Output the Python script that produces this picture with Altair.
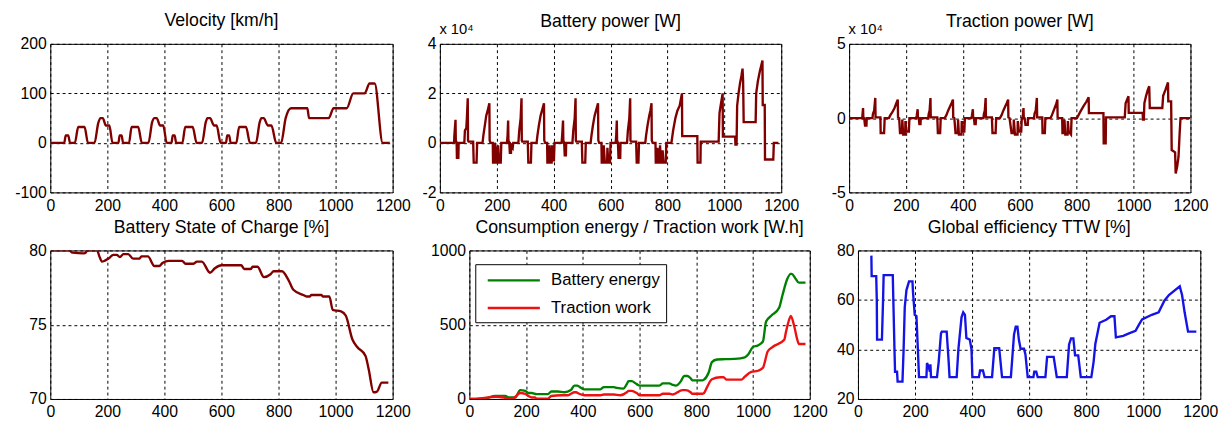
import altair as alt
import pandas as pd

FONT = "Liberation Sans"
X_TICKS = [0, 200, 400, 600, 800, 1000, 1200]

# ---------------- Velocity [km/h] ----------------
vel_t = [0, 49, 54, 63, 69, 86, 98, 120, 132, 155, 168, 176, 184, 195, 207, 218,
         239, 243, 250, 255, 276, 285, 308, 321, 344, 357, 365, 373, 385, 396, 408,
         425, 429, 436, 441, 463, 473, 499, 513, 532, 545, 551, 560, 574, 583, 597,
         616, 620, 627, 632, 652, 662, 686, 700, 721, 734, 740, 748, 763, 775, 792,
         809, 825, 844, 901, 907, 976, 993, 1039, 1062, 1102, 1119, 1137, 1165, 1190]
vel_v = [0, 0, 15, 15, 0, 0, 32, 32, 0, 0, 40, 50, 50, 35, 35, 0,
         0, 15, 15, 0, 0, 32, 32, 0, 0, 42, 50, 50, 35, 35, 0,
         0, 15, 15, 0, 0, 32, 32, 0, 0, 42, 50, 50, 35, 35, 0,
         0, 15, 15, 0, 0, 32, 32, 0, 0, 42, 50, 50, 35, 35, 0,
         0, 50, 70, 70, 50, 50, 70, 70, 100, 100, 120, 120, 0, 0]

# ---------------- Battery power [W] ----------------
bp_t = [0, 50, 51, 55, 56, 59, 60, 65, 66,
        86, 88, 93, 95, 98, 99, 101, 117, 119, 129, 131,
        150, 153, 158, 163, 168, 174, 175, 178, 186, 187, 192, 193, 197, 198, 204, 205, 208, 214, 216,
        236, 238, 240, 241, 244, 246, 250, 251, 256, 258,
        276, 279, 284, 287, 288, 290, 309, 311, 320, 322,
        340, 343, 348, 354, 359, 366, 367, 370, 377, 378, 384, 385, 388, 393, 394, 397, 401, 403,
        428, 430, 433, 434, 437, 439, 443, 444,
        466, 469, 474, 477, 478, 480, 499, 501, 511, 513,
        530, 533, 538, 544, 549, 556, 557, 560, 568, 569, 575, 576, 580, 588, 589, 592, 598, 600,
        618, 620, 622, 623, 626, 628, 634, 635,
        658, 661, 666, 669, 670, 672, 690, 692, 698, 700,
        722, 725, 730, 736, 740, 744, 745, 748, 758, 759, 764, 765, 768, 773, 774, 777, 782, 783, 786, 794, 796,
        814, 820, 828, 835, 843, 851, 852, 905, 906, 916, 917, 980, 983, 987, 994, 995, 1038, 1039, 1043,
        1045, 1050, 1055, 1060, 1064, 1066, 1068, 1110, 1112, 1118, 1125, 1134, 1135, 1142, 1143, 1172, 1174, 1190]
bp_v = [0, 0, 3000, 9300, 1000, 0, -6000, -6000, 0,
        0, 5000, 6000, 10000, 18000, 1000, 500, 500, -8000, -8000, 0,
        0, 3000, 7000, 11000, 13000, 16000, 1000, 0, 0, -8000, -8000, 0, -2000, -8000, -8000, -1000, -8000, -8000, 0,
        0, 3000, 9000, 1000, 0, -4000, -4000, -1000, -2000, 0,
        0, 5000, 10000, 18000, 1000, 500, 500, -8000, -8000, 0,
        0, 3000, 7000, 11000, 13000, 16000, 1000, 0, 0, -8000, -8000, -1000, -8000, -8000, -1000, -7000, -7000, 0,
        0, 3000, 9000, 1000, 0, -5000, -5000, 0,
        0, 5000, 10000, 18000, 1000, 500, 500, -8000, -8000, 0,
        0, 3000, 7000, 11000, 13000, 16000, 1000, 0, 0, -8000, -8000, -1000, -8000, -8000, -2000, -8000, -8000, 0,
        0, 3000, 9000, 1000, 0, -6000, -6000, 0,
        0, 5000, 10000, 18000, 1000, 500, 500, -8000, -8000, 0,
        0, 3000, 7000, 11000, 13000, 16000, 1000, 0, 0, -8000, -8000, -2000, -8000, -8000, -1000, -8000, -8000, -3000, -8000, -8000, 0,
        0, 5000, 10000, 13000, 15000, 20000, 2700, 2700, -8000, -8000, 500, 500, 12000, 15000, 20000, 2500, 2500, -700, -700,
        15000, 20000, 24000, 27000, 30000, 25000, 8400, 8400, 20000, 25000, 29000, 33300, 15300, 15300, -6700, -6700, 0, 0]

# ---------------- Traction power [W] ----------------
tp_t = [0, 46, 47, 49, 50, 53, 56, 61, 62,
        82, 84, 88, 92, 93, 110, 111, 123, 125,
        140, 145, 152, 160, 166, 171, 172, 176, 179, 186, 187, 190, 197, 198, 201, 210, 212,
        236, 238, 241, 242, 245, 247, 251, 252,
        278, 280, 283, 286, 287, 310, 312, 320, 322,
        336, 342, 348, 355, 360, 365, 366, 370, 374, 382, 383, 386, 395, 396, 399, 405, 407,
        430, 432, 435, 436, 439, 441, 445, 446,
        472, 474, 477, 480, 481, 502, 504, 515, 517,
        530, 536, 542, 549, 554, 559, 560, 564, 571, 578, 579, 583, 592, 593, 597, 605, 607,
        610, 611, 613, 614, 617, 620, 628, 629,
        650, 652, 656, 660, 661, 679, 680, 688, 690,
        708, 713, 719, 725, 729, 732, 733, 737, 749, 750, 756, 757, 760, 768, 769, 772, 780, 782,
        801, 812, 824, 834, 842, 843, 894, 895, 902, 903, 969, 972, 982, 983, 1032, 1033, 1036,
        1038, 1044, 1050, 1055, 1057, 1101, 1104, 1112, 1121, 1122, 1132, 1134, 1146, 1148, 1153,
        1158, 1162, 1165, 1199]
tp_v = [0, 0, 2000, 6800, 500, 0, -5000, -5000, 0,
        0, 3000, 5000, 13600, 500, 500, -10000, -10000, 0,
        0, 2000, 4000, 7000, 10000, 12500, 500, 0, -10000, -10000, -1000, -11000, -11000, -2000, -9000, -9000, 0,
        0, 2000, 6000, 500, 0, -4000, -4000, 0,
        0, 3000, 5000, 13500, 500, 500, -10000, -10000, 0,
        0, 2000, 5000, 8000, 10000, 12500, 500, 0, -10000, -10000, -1000, -11000, -11000, -2000, -9000, -9000, 0,
        0, 2000, 6000, 500, 0, -4000, -4000, 0,
        0, 3000, 5000, 13500, 500, 500, -10000, -10000, 0,
        0, 2000, 5000, 8000, 10000, 12500, 500, 0, -10000, -10000, -1000, -11000, -11000, -2000, -9000, -9000, 0,
        0, 2000, 6800, 500, 0, -4500, -4500, 0,
        0, 3000, 5000, 13600, 500, 500, -10000, -10000, 0,
        0, 2000, 5000, 8000, 10000, 12500, 500, 0, 0, -10000, -10000, -1000, -11000, -11000, -2000, -9000, -11000, 0,
        0, 4000, 8000, 11000, 14000, 3400, 3400, -17000, -17000, 500, 500, 10000, 14700, 3500, 3500, -1000, -1000,
        10000, 15000, 19000, 21500, 6800, 6800, 15000, 19000, 24000, 11300, 11300, -21500, -23000, -37300, -33000,
        -26000, -10000, 0, 0]

# ---------------- Battery State of Charge [%] ----------------
soc_t = [0, 66, 78, 118, 124, 130, 164, 172, 181, 190, 204, 221, 233, 244, 256, 273, 290, 313,
         319, 342, 365, 382, 393, 416, 462, 474, 502, 514, 531, 560, 577, 600, 669, 680, 703, 709,
         726, 749, 772, 783, 812, 835, 852, 887, 898, 910, 915, 950, 955, 978, 990, 1019, 1036,
         1059, 1076, 1105, 1116, 1133, 1145, 1162, 1185]
soc_v = [80, 80, 79.85, 79.8, 79.85, 80, 80, 79.6, 79.25, 79.3, 79.45, 79.7, 79.7, 79.55, 79.75,
         79.75, 79.45, 79.45, 79.6, 79.6, 78.95, 78.95, 79.15, 79.3, 79.3, 79.1, 79.1, 79.25, 79.25,
         78.5, 78.8, 79.0, 79.0, 78.75, 78.75, 78.9, 78.9, 78.2, 78.4, 78.6, 78.6, 78.0, 77.35, 77.0,
         76.9, 76.9, 77.0, 77.0, 76.9, 76.9, 76.0, 75.9, 75.6, 74.0, 73.5, 72.9, 72.0, 70.45, 70.5,
         71.1, 71.1]

# ---------------- Consumption energy / Traction work [W.h] ----------------
be_t = [0, 23, 58, 92, 127, 139, 162, 179, 197, 208, 220, 237, 277, 289, 312, 335, 358, 370, 381,
        393, 405, 462, 474, 509, 520, 543, 555, 561, 572, 590, 601, 670, 682, 705, 717, 728, 746,
        757, 769, 780, 786, 821, 827, 844, 855, 873, 902, 936, 971, 983, 1000, 1017, 1035, 1046,
        1064, 1092, 1104, 1121, 1133, 1136, 1150, 1162, 1185]
be_v = [0, 0, 5, 20, 20, 10, 10, 60, 55, 40, 40, 33, 33, 50, 50, 45, 60, 90, 90,
        75, 65, 65, 80, 80, 75, 70, 100, 120, 120, 100, 90, 90, 105, 105, 95, 90, 120,
        155, 155, 140, 125, 125, 130, 180, 248, 266, 268, 270, 280, 300, 350, 360, 388, 521,
        560, 614, 700, 809, 842, 842, 810, 783, 783]
tw_t = [0, 23, 46, 92, 121, 139, 150, 179, 197, 208, 220, 231, 237, 277, 289, 324, 347, 358, 370,
        376, 387, 405, 462, 474, 509, 532, 555, 561, 572, 590, 601, 670, 682, 705, 717, 751, 763,
        780, 786, 821, 827, 838, 855, 884, 896, 907, 959, 971, 994, 1017, 1035, 1052, 1069, 1110,
        1116, 1127, 1133, 1144, 1156, 1162, 1185]
tw_v = [0, 0, 5, 15, 10, 0, 0, 40, 35, 20, 10, 10, 2, 2, 20, 25, 25, 35, 45,
        45, 35, 25, 25, 30, 30, 25, 45, 55, 55, 40, 25, 25, 35, 35, 30, 60, 60,
        45, 35, 35, 40, 80, 133, 146, 146, 130, 130, 150, 182, 190, 210, 321, 350, 399,
        450, 532, 559, 500, 400, 370, 370]
energy_names = ["Battery energy", "Traction work"]

# ---------------- Global efficiency TTW [%] ----------------
eff_t = [47, 48, 64, 66, 67, 84, 88, 90, 122, 125, 128, 130, 137, 139, 156, 160, 164, 170, 179,
         191, 193, 199, 205, 210, 214, 240, 242, 248, 252, 254, 256, 277, 283, 291, 294, 311, 318,
         321, 346, 352, 363, 369, 375, 380, 392, 398, 401, 424, 428, 438, 444, 470, 478, 495, 505,
         536, 547, 553, 559, 564, 570, 582, 587, 595, 615, 618, 625, 630, 657, 663, 686, 697, 732,
         740, 747, 755, 761, 772, 781, 818, 826, 832, 847, 870, 887, 899, 904, 930, 950, 973, 985,
         996, 1030, 1054, 1074, 1090, 1128, 1136, 1145, 1157, 1186]
eff_v = [77.9, 69.6, 69.6, 60, 44, 44, 60, 70, 70, 55, 40, 31, 31, 27, 27, 40, 57, 64, 67.5,
         67.5, 63, 54, 53.5, 40, 28.8, 28.8, 34.5, 33, 31, 34, 28.8, 28.8, 35, 46.5, 47.2, 47.2, 35,
         28.8, 28.8, 40, 53, 55, 54, 44.6, 44, 40, 28.8, 28.8, 31.5, 31.5, 28.8, 28.8, 40.5, 40.5, 28.8,
         28.8, 46, 49.2, 49.2, 44, 40.3, 40.3, 38, 28.8, 28.8, 31, 31, 28.8, 28.8, 37, 37, 28.8, 28.8,
         42, 44.5, 44.5, 37.6, 37.6, 28.8, 28.8, 35, 42.2, 50.8, 52, 53.4, 53.4, 44.9, 45.5, 46.5, 47.5, 50,
         52.1, 54, 55, 59.7, 62, 65.5, 62, 55, 47.2, 47.2]

DARK_RED = "#800000"
H = 151
LW = 2.4


def xenc():
    return alt.X("t:Q", scale=alt.Scale(domain=[0, 1200], nice=False, zero=False),
                 axis=alt.Axis(values=X_TICKS, title=None, labelPadding=5, labelExpr="'' + datum.value"))


def ttl(text, offset):
    return alt.TitleParams(text=text, fontSize=18, font=FONT, fontWeight="normal", frame="group",
                           color="black", anchor="middle", baseline="bottom", offset=offset)


def simple_panel(ts, vs, color, title, dom, yvals, width, ext, toff, ylabel_expr="'' + datum.value",
                 ytitle=None, interp="linear"):
    df = pd.DataFrame({"t": ts, "v": vs})
    ax = dict(values=yvals, minExtent=ext, maxExtent=ext, labelPadding=4, title=None, labelExpr=ylabel_expr)
    if ytitle:
        ax.update(title=ytitle, titleAngle=0, titleAlign="left", titleBaseline="alphabetic",
                  titleX=-1, titleY=-10, titleFontSize=15, titleFontWeight="normal",
                  titleFont=FONT, titleColor="black")
    return alt.Chart(df).mark_line(color=color, strokeWidth=LW, clip=True, interpolate=interp).encode(
        x=xenc(),
        y=alt.Y("v:Q", scale=alt.Scale(domain=dom, nice=False, zero=False), axis=alt.Axis(**ax)),
    ).properties(width=width, height=H, title=ttl(title, toff))


p1 = simple_panel(vel_t, vel_v, DARK_RED, "Velocity [km/h]", [-100, 200], [-100, 0, 100, 200], 348, 42, -12,
                  interp="monotone")
p2 = simple_panel(bp_t, bp_v, DARK_RED, "Battery power [W]", [-20000, 40000],
                  [-20000, 0, 20000, 40000], 347, 22, -27, "'' + datum.value / 10000", "x 10\u2074")
p3 = simple_panel(tp_t, tp_v, DARK_RED, "Traction power [W]", [-50000, 50000],
                  [-50000, 0, 50000], 347, 43, -27, "'' + datum.value / 10000", "x 10\u2074")
p4 = simple_panel(soc_t, soc_v, DARK_RED, "Battery State of Charge [%]", [70, 80], [70, 75, 80], 348, 28, -12,
                  interp="monotone")
p6 = simple_panel(eff_t, eff_v, "#1414e6", "Global efficiency TTW [%]", [20, 80], [20, 40, 60, 80], 348, 25, -12)

edf = pd.concat([
    pd.DataFrame({"t": be_t, "v": be_v, "s": energy_names[0]}),
    pd.DataFrame({"t": tw_t, "v": tw_v, "s": energy_names[1]}),
])
p5 = alt.Chart(edf).mark_line(strokeWidth=LW, clip=True, interpolate="monotone").encode(
    x=xenc(),
    y=alt.Y("v:Q", scale=alt.Scale(domain=[0, 1000], nice=False, zero=False),
            axis=alt.Axis(values=[0, 500, 1000], minExtent=54, maxExtent=54, labelPadding=4,
                          title=None, labelExpr="'' + datum.value")),
    color=alt.Color("s:N", scale=alt.Scale(domain=energy_names, range=["#008000", "#ee1111"]),
                    legend=alt.Legend(orient="none", legendX=6, legendY=14, title=None,
                                      symbolType="M-1,0H5", symbolSize=312, symbolStrokeWidth=LW,
                                      symbolOffset=5, labelOffset=45, labelFont=FONT, labelFontSize=17,
                                      labelColor="black", rowPadding=9, padding=6,
                                      strokeColor="black", fillColor="white", cornerRadius=0)),
    detail="s:N",
).properties(width=346, height=H, title=ttl("Consumption energy / Traction work [W.h]", -12))

top = alt.hconcat(p1, p2, p3, spacing=6).resolve_scale(color="independent")
bottom = alt.hconcat(p4, p5, p6, spacing=4).resolve_scale(color="independent")

chart = alt.concat(top, bottom, columns=1, align="none", spacing=4).resolve_scale(
    color="independent"
).properties(
    padding={"left": 0, "top": 0, "right": 0, "bottom": 0}, background="white"
).configure_view(stroke="black", strokeWidth=1).configure_axis(
    grid=True, gridColor="black", gridDash=[3, 3], gridWidth=1, gridOpacity=1,
    domain=False, ticks=False, labelFont=FONT, labelFontSize=16, labelColor="black",
    labelFlush=False, labelOverlap=False, labelBound=False,
)

chart.save("out.html", embed_options={"renderer": "svg", "actions": False})
